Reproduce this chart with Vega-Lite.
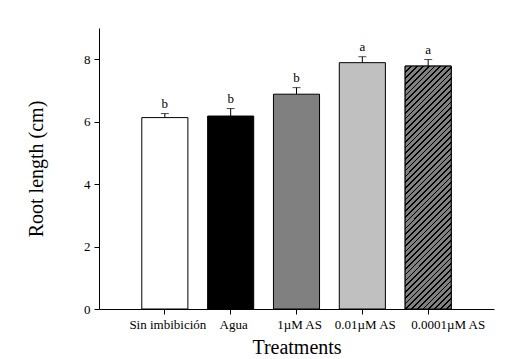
{
  "$schema": "https://vega.github.io/schema/vega-lite/v6.json",
  "width": 395,
  "height": 281,
  "autosize": {"type": "none"},
  "padding": {"left": 99, "top": 28, "right": 28, "bottom": 50},
  "background": "white",
  "config": {"view": {"stroke": null}, "font": "Liberation Serif"},
  "data": {"values": [
    {"t": "Sin imbibición", "v": 6.13, "hi": 6.26, "l": "b"},
    {"t": "Agua", "v": 6.18, "hi": 6.42, "l": "b"},
    {"t": "1µM AS", "v": 6.88, "hi": 7.09, "l": "b"},
    {"t": "0.01µM AS", "v": 7.89, "hi": 8.08, "l": "a"},
    {"t": "0.0001µM AS", "v": 7.78, "hi": 7.99, "l": "a"}
  ]},
  "encoding": {
    "x": {"field": "t", "type": "nominal", "sort": null,
      "scale": {"paddingInner": 0.3, "paddingOuter": 0.65},
      "axis": {"title": "Treatments", "labelAngle": 0, "labelFont": "Liberation Serif", "labelFontSize": 13, "labelColor": "black", "labelPadding": 4,
        "labelOverlap": false,
        "labelOffset": {"condition": {"test": "datum.index === 1", "value": 20}, "value": 3},
        "titleFont": "Liberation Serif", "titleFontSize": 20, "titleFontWeight": "normal", "titleColor": "black", "titlePadding": 6,
        "domainColor": "black", "tickColor": "black", "tickSize": 5}}
  },
  "layer": [
    {"mark": {"type": "rule", "color": "black", "strokeWidth": 1},
     "encoding": {"y": {"field": "v", "type": "quantitative"}, "y2": {"field": "hi"}}},
    {"mark": {"type": "tick", "color": "black", "thickness": 1, "size": 8, "orient": "horizontal"},
     "encoding": {"y": {"field": "hi", "type": "quantitative"}}},
    {"mark": {"type": "bar", "stroke": "black", "strokeWidth": 1},
     "encoding": {
       "y": {"field": "v", "type": "quantitative",
         "scale": {"domain": [0, 9], "nice": false},
         "axis": {"title": "Root length (cm)", "values": [0, 2, 4, 6, 8], "grid": false,
           "labelFont": "Liberation Serif", "labelFontSize": 13, "labelColor": "black", "labelPadding": 4,
           "titleFont": "Liberation Serif", "titleFontSize": 20, "titleFontWeight": "normal", "titleColor": "black", "titlePadding": 37,
           "domainColor": "black", "tickColor": "black", "tickSize": 5}},
       "fill": {"field": "t", "type": "nominal", "legend": null,
         "scale": {"domain": ["Sin imbibición", "Agua", "1µM AS", "0.01µM AS", "0.0001µM AS"],
           "range": ["#ffffff", "#000000", "#808080", "#c0c0c0", "#808080"]}}
     }},
    {"transform": [{"filter": "datum.t === '0.0001µM AS'"}],
     "mark": {"type": "bar", "stroke": "black", "strokeWidth": 1,
       "fill": {"gradient": "linear", "x1": 0, "y1": 0, "x2": 0.218, "y2": 1.148,
         "stops": [
{"offset":0,"color":"#000"},{"offset":0.006,"color":"#000"},{"offset":0.006,"color":"#808080"},{"offset":0.02,"color":"#808080"},
{"offset":0.02,"color":"#000"},{"offset":0.026,"color":"#000"},{"offset":0.026,"color":"#808080"},{"offset":0.04,"color":"#808080"},
{"offset":0.04,"color":"#000"},{"offset":0.046,"color":"#000"},{"offset":0.046,"color":"#808080"},{"offset":0.06,"color":"#808080"},
{"offset":0.06,"color":"#000"},{"offset":0.066,"color":"#000"},{"offset":0.066,"color":"#808080"},{"offset":0.08,"color":"#808080"},
{"offset":0.08,"color":"#000"},{"offset":0.086,"color":"#000"},{"offset":0.086,"color":"#808080"},{"offset":0.10,"color":"#808080"},
{"offset":0.10,"color":"#000"},{"offset":0.106,"color":"#000"},{"offset":0.106,"color":"#808080"},{"offset":0.12,"color":"#808080"},
{"offset":0.12,"color":"#000"},{"offset":0.126,"color":"#000"},{"offset":0.126,"color":"#808080"},{"offset":0.14,"color":"#808080"},
{"offset":0.14,"color":"#000"},{"offset":0.146,"color":"#000"},{"offset":0.146,"color":"#808080"},{"offset":0.16,"color":"#808080"},
{"offset":0.16,"color":"#000"},{"offset":0.166,"color":"#000"},{"offset":0.166,"color":"#808080"},{"offset":0.18,"color":"#808080"},
{"offset":0.18,"color":"#000"},{"offset":0.186,"color":"#000"},{"offset":0.186,"color":"#808080"},{"offset":0.20,"color":"#808080"},
{"offset":0.20,"color":"#000"},{"offset":0.206,"color":"#000"},{"offset":0.206,"color":"#808080"},{"offset":0.22,"color":"#808080"},
{"offset":0.22,"color":"#000"},{"offset":0.226,"color":"#000"},{"offset":0.226,"color":"#808080"},{"offset":0.24,"color":"#808080"},
{"offset":0.24,"color":"#000"},{"offset":0.246,"color":"#000"},{"offset":0.246,"color":"#808080"},{"offset":0.26,"color":"#808080"},
{"offset":0.26,"color":"#000"},{"offset":0.266,"color":"#000"},{"offset":0.266,"color":"#808080"},{"offset":0.28,"color":"#808080"},
{"offset":0.28,"color":"#000"},{"offset":0.286,"color":"#000"},{"offset":0.286,"color":"#808080"},{"offset":0.30,"color":"#808080"},
{"offset":0.30,"color":"#000"},{"offset":0.306,"color":"#000"},{"offset":0.306,"color":"#808080"},{"offset":0.32,"color":"#808080"},
{"offset":0.32,"color":"#000"},{"offset":0.326,"color":"#000"},{"offset":0.326,"color":"#808080"},{"offset":0.34,"color":"#808080"},
{"offset":0.34,"color":"#000"},{"offset":0.346,"color":"#000"},{"offset":0.346,"color":"#808080"},{"offset":0.36,"color":"#808080"},
{"offset":0.36,"color":"#000"},{"offset":0.366,"color":"#000"},{"offset":0.366,"color":"#808080"},{"offset":0.38,"color":"#808080"},
{"offset":0.38,"color":"#000"},{"offset":0.386,"color":"#000"},{"offset":0.386,"color":"#808080"},{"offset":0.40,"color":"#808080"},
{"offset":0.40,"color":"#000"},{"offset":0.406,"color":"#000"},{"offset":0.406,"color":"#808080"},{"offset":0.42,"color":"#808080"},
{"offset":0.42,"color":"#000"},{"offset":0.426,"color":"#000"},{"offset":0.426,"color":"#808080"},{"offset":0.44,"color":"#808080"},
{"offset":0.44,"color":"#000"},{"offset":0.446,"color":"#000"},{"offset":0.446,"color":"#808080"},{"offset":0.46,"color":"#808080"},
{"offset":0.46,"color":"#000"},{"offset":0.466,"color":"#000"},{"offset":0.466,"color":"#808080"},{"offset":0.48,"color":"#808080"},
{"offset":0.48,"color":"#000"},{"offset":0.486,"color":"#000"},{"offset":0.486,"color":"#808080"},{"offset":0.50,"color":"#808080"},
{"offset":0.50,"color":"#000"},{"offset":0.506,"color":"#000"},{"offset":0.506,"color":"#808080"},{"offset":0.52,"color":"#808080"},
{"offset":0.52,"color":"#000"},{"offset":0.526,"color":"#000"},{"offset":0.526,"color":"#808080"},{"offset":0.54,"color":"#808080"},
{"offset":0.54,"color":"#000"},{"offset":0.546,"color":"#000"},{"offset":0.546,"color":"#808080"},{"offset":0.56,"color":"#808080"},
{"offset":0.56,"color":"#000"},{"offset":0.566,"color":"#000"},{"offset":0.566,"color":"#808080"},{"offset":0.58,"color":"#808080"},
{"offset":0.58,"color":"#000"},{"offset":0.586,"color":"#000"},{"offset":0.586,"color":"#808080"},{"offset":0.60,"color":"#808080"},
{"offset":0.60,"color":"#000"},{"offset":0.606,"color":"#000"},{"offset":0.606,"color":"#808080"},{"offset":0.62,"color":"#808080"},
{"offset":0.62,"color":"#000"},{"offset":0.626,"color":"#000"},{"offset":0.626,"color":"#808080"},{"offset":0.64,"color":"#808080"},
{"offset":0.64,"color":"#000"},{"offset":0.646,"color":"#000"},{"offset":0.646,"color":"#808080"},{"offset":0.66,"color":"#808080"},
{"offset":0.66,"color":"#000"},{"offset":0.666,"color":"#000"},{"offset":0.666,"color":"#808080"},{"offset":0.68,"color":"#808080"},
{"offset":0.68,"color":"#000"},{"offset":0.686,"color":"#000"},{"offset":0.686,"color":"#808080"},{"offset":0.70,"color":"#808080"},
{"offset":0.70,"color":"#000"},{"offset":0.706,"color":"#000"},{"offset":0.706,"color":"#808080"},{"offset":0.72,"color":"#808080"},
{"offset":0.72,"color":"#000"},{"offset":0.726,"color":"#000"},{"offset":0.726,"color":"#808080"},{"offset":0.74,"color":"#808080"},
{"offset":0.74,"color":"#000"},{"offset":0.746,"color":"#000"},{"offset":0.746,"color":"#808080"},{"offset":0.76,"color":"#808080"},
{"offset":0.76,"color":"#000"},{"offset":0.766,"color":"#000"},{"offset":0.766,"color":"#808080"},{"offset":0.78,"color":"#808080"},
{"offset":0.78,"color":"#000"},{"offset":0.786,"color":"#000"},{"offset":0.786,"color":"#808080"},{"offset":0.80,"color":"#808080"},
{"offset":0.80,"color":"#000"},{"offset":0.806,"color":"#000"},{"offset":0.806,"color":"#808080"},{"offset":0.82,"color":"#808080"},
{"offset":0.82,"color":"#000"},{"offset":0.826,"color":"#000"},{"offset":0.826,"color":"#808080"},{"offset":0.84,"color":"#808080"},
{"offset":0.84,"color":"#000"},{"offset":0.846,"color":"#000"},{"offset":0.846,"color":"#808080"},{"offset":0.86,"color":"#808080"},
{"offset":0.86,"color":"#000"},{"offset":0.866,"color":"#000"},{"offset":0.866,"color":"#808080"},{"offset":0.88,"color":"#808080"},
{"offset":0.88,"color":"#000"},{"offset":0.886,"color":"#000"},{"offset":0.886,"color":"#808080"},{"offset":0.90,"color":"#808080"},
{"offset":0.90,"color":"#000"},{"offset":0.906,"color":"#000"},{"offset":0.906,"color":"#808080"},{"offset":0.92,"color":"#808080"},
{"offset":0.92,"color":"#000"},{"offset":0.926,"color":"#000"},{"offset":0.926,"color":"#808080"},{"offset":0.94,"color":"#808080"},
{"offset":0.94,"color":"#000"},{"offset":0.946,"color":"#000"},{"offset":0.946,"color":"#808080"},{"offset":0.96,"color":"#808080"},
{"offset":0.96,"color":"#000"},{"offset":0.966,"color":"#000"},{"offset":0.966,"color":"#808080"},{"offset":0.98,"color":"#808080"},
{"offset":0.98,"color":"#000"},{"offset":0.986,"color":"#000"},{"offset":0.986,"color":"#808080"},{"offset":1,"color":"#808080"}
         ]}},
     "encoding": {"y": {"field": "v", "type": "quantitative"}}},
    {"mark": {"type": "text", "baseline": "bottom", "dy": -3, "fontSize": 13, "font": "Liberation Serif", "color": "black"},
     "encoding": {"y": {"field": "hi", "type": "quantitative"}, "text": {"field": "l"}}}
  ]
}
